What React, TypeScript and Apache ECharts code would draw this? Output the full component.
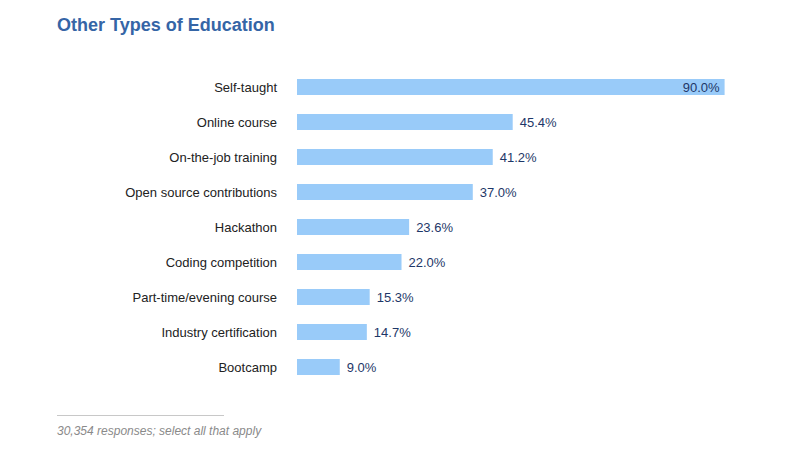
import React, { useEffect, useRef } from "react";
import * as echarts from "echarts";

const categories = [
  "Self-taught",
  "Online course",
  "On-the-job training",
  "Open source contributions",
  "Hackathon",
  "Coding competition",
  "Part-time/evening course",
  "Industry certification",
  "Bootcamp",
];
const values = [90.0, 45.4, 41.2, 37.0, 23.6, 22.0, 15.3, 14.7, 9.0];
const titleText = "Other Types of Education";
const footnote = "30,354 responses; select all that apply";

export default function App() {
  const ref = useRef<HTMLDivElement>(null);
  useEffect(() => {
    if (!ref.current) return;
    const chart = echarts.init(ref.current, null, { renderer: "svg" });
    const font = "Liberation Sans, Arial, Helvetica, sans-serif";
    chart.setOption({
      animation: false,
      backgroundColor: "#ffffff",
      title: {
        text: titleText,
        left: 44,
        top: 3,
        textStyle: {
          color: "#3565a6",
          fontSize: 18,
          fontWeight: "bold",
          fontFamily: font,
        },
      },
      grid: { left: 289, top: 61.5, width: 427.6, height: 315, containLabel: false },
      xAxis: {
        type: "value",
        min: 0,
        max: 90,
        show: false,
      },
      yAxis: {
        type: "category",
        inverse: true,
        data: categories,
        axisLine: { show: false },
        axisTick: { show: false },
        axisLabel: {
          margin: 20,
          color: "#222222",
          fontSize: 13,
          fontFamily: font,
        },
      },
      series: [
        {
          type: "bar",
          data: values.map((v, i) => ({
            value: v,
            label:
              i === 0
                ? { position: "insideRight", distance: 5 }
                : { position: "right", distance: 7 },
          })),
          barWidth: 16,
          itemStyle: { color: "#99cbf9" },
          label: {
            show: true,
            color: "#1e3768",
            fontSize: 13,
            fontFamily: font,
            formatter: (p: any) => p.value.toFixed(1) + "%",
          },
        },
      ],
      graphic: [
        {
          type: "line",
          shape: { x1: 49, y1: 407.5, x2: 216, y2: 407.5 },
          style: { stroke: "#c8c8c8", lineWidth: 1 },
        },
        {
          type: "text",
          left: 49,
          top: 417,
          style: {
            text: footnote,
            fill: "#8a8a8a",
            fontSize: 12,
            fontStyle: "italic",
            fontFamily: font,
          },
        },
      ],
    });
    return () => chart.dispose();
  }, []);
  return <div ref={ref} style={{ width: 784, height: 434 }} />;
}
